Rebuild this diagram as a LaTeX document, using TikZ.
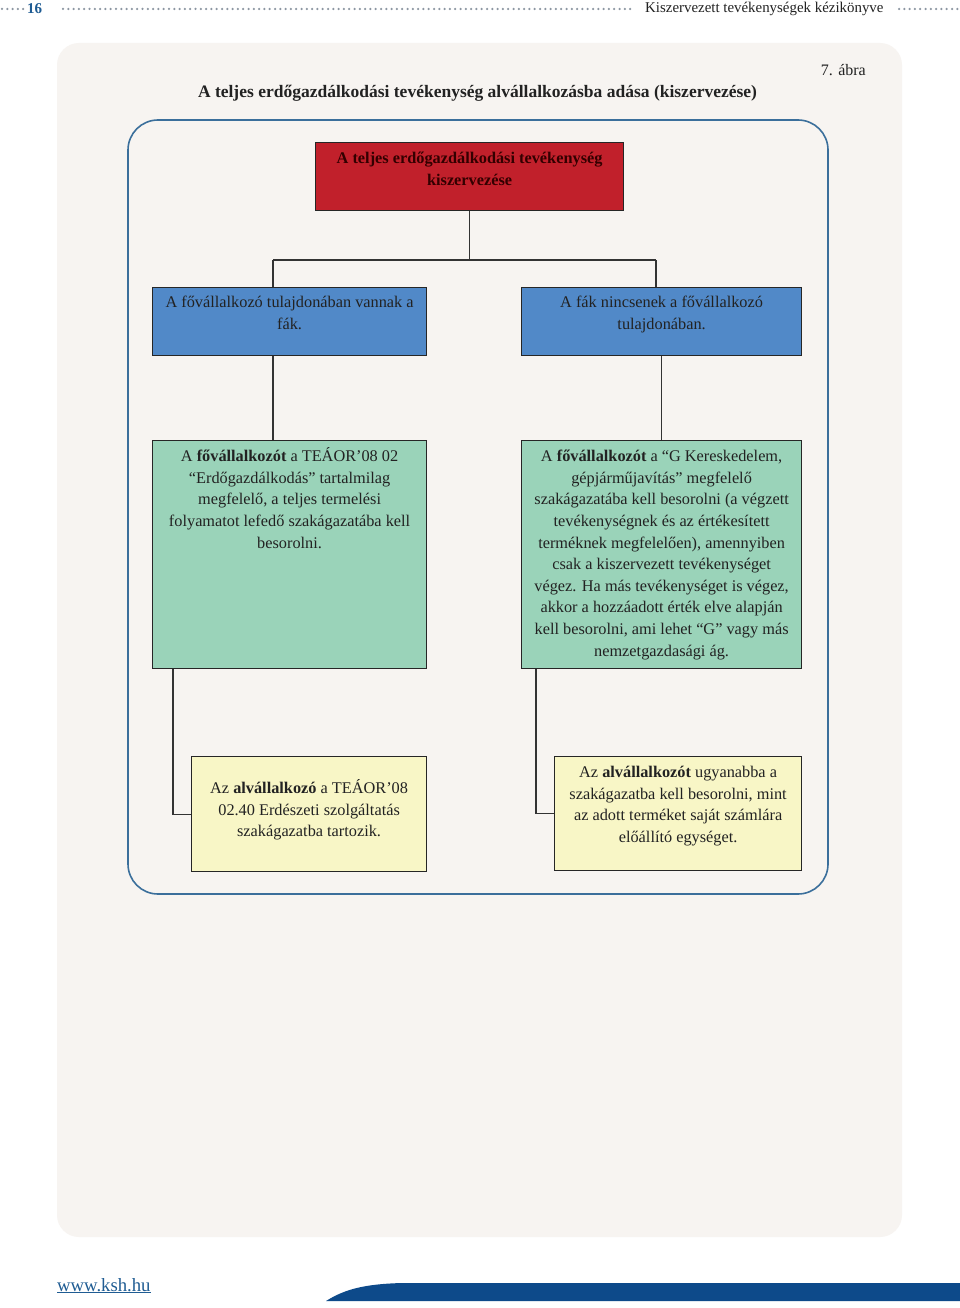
\documentclass[tikz,border=0pt]{standalone}
\usepackage{fontspec}
\setmainfont{Liberation Serif}
\definecolor{panel}{HTML}{F7F4F1}
\definecolor{frame}{HTML}{3B6F9B}
\definecolor{redbox}{HTML}{C1202B}
\definecolor{bluebox}{HTML}{5189C8}
\definecolor{greenbox}{HTML}{9AD3B9}
\definecolor{yellowbox}{HTML}{F8F6C6}
\definecolor{hdrblue}{HTML}{1F5C93}
\definecolor{band}{HTML}{0D4A8A}
\definecolor{dotgray}{HTML}{8C96A2}
\definecolor{txt}{HTML}{222222}
\newcommand{\bxfont}{\fontsize{16.3}{21.6}\selectfont}
\begin{document}
\begin{tikzpicture}[x=1pt,y=-1pt,
  bx/.style={draw=black!85,line width=1.2pt,anchor=north west,inner sep=0pt,text=txt},
  conn/.style={draw=black!80,line width=1.1pt},
  dots/.style={dotgray,line width=2.5pt,line cap=round,dash pattern=on 0pt off 5.3pt}]
\useasboundingbox (0,0) rectangle (960,1308);
\fill[white] (0,0) rectangle (960,1308);
% header
\draw[dots] (2,9) -- (24,9);
\draw[dots] (63,9) -- (633,9);
\draw[dots] (899,9) -- (960,9);
\node[anchor=base west,inner sep=0,text=hdrblue,font=\bfseries\fontsize{15}{16}\selectfont] (pg) at (27,13.5) {16};
\node[anchor=base west,inner sep=0,text=txt,font=\fontsize{14.9}{16}\selectfont] (hd) at (645,13) {Kiszervezett tevékenységek kézikönyve};
% panel
\fill[panel,rounded corners=22pt] (57,43) rectangle (902,1237);
\node[anchor=base east,inner sep=0,text=txt,font=\fontsize{16}{18}\selectfont] (abra) at (866,76) {7. ábra};
\node[anchor=base,inner sep=0,text=txt,font=\bfseries\fontsize{17.5}{19}\selectfont] (title) at (477.5,98) {A teljes erdőgazdálkodási tevékenység alvállalkozásba adása (kiszervezése)};
% frame
\draw[frame,line width=1.6pt,rounded corners=30pt] (128,120) rectangle (828,894);
% boxes
\node[bx,fill=redbox,text=black!80!red] (red) at (315,142) {\parbox[t][68pt][t]{308pt}{\bxfont\vspace*{6pt}\centering\bfseries\strut A teljes erdőgazdálkodási tevékenység\\ kiszervezése}};
\node[bx,fill=bluebox] (b1) at (152,287) {\parbox[t][68pt][t]{274pt}{\bxfont\vspace*{5pt}\centering\strut A fővállalkozó tulajdonában vannak a\\ fák.}};
\node[bx,fill=bluebox] (b2) at (521,287) {\parbox[t][68pt][t]{280pt}{\bxfont\vspace*{5pt}\centering\strut A fák nincsenek a fővállalkozó\\ tulajdonában.}};
\node[bx,fill=greenbox] (g1) at (152,440) {\parbox[t][228pt][t]{274pt}{\bxfont\vspace*{6pt}\centering\strut A \textbf{fővállalkozót} a TEÁOR’08 02\\ “Erdőgazdálkodás” tartalmilag\\ megfelelő, a teljes termelési\\ folyamatot lefedő szakágazatába kell\\ besorolni.}};
\node[bx,fill=greenbox] (g2) at (521,440) {\parbox[t][228pt][t]{280pt}{\bxfont\vspace*{6pt}\centering\strut A \textbf{fővállalkozót} a “G Kereskedelem,\\ gépjárműjavítás” megfelelő\\ szakágazatába kell besorolni (a végzett\\ tevékenységnek és az értékesített\\ terméknek megfelelően), amennyiben\\ csak a kiszervezett tevékenységet\\ végez. Ha más tevékenységet is végez,\\ akkor a hozzáadott érték elve alapján\\ kell besorolni, ami lehet “G” vagy más\\ nemzetgazdasági ág.}};
\node[bx,fill=yellowbox] (y1) at (191,756) {\parbox[t][115pt][t]{235pt}{\bxfont\vspace*{22pt}\centering\strut Az \textbf{alvállalkozó} a TEÁOR’08\\ 02.40 Erdészeti szolgáltatás\\ szakágazatba tartozik.}};
\node[bx,fill=yellowbox] (y2) at (554,756) {\parbox[t][114pt][t]{247pt}{\bxfont\vspace*{6pt}\centering\strut Az \textbf{alvállalkozót} ugyanabba a\\ szakágazatba kell besorolni, mint\\ az adott terméket saját számlára\\ előállító egységet.}};
% connectors
\coordinate (jl) at (273,260);
\coordinate (jr) at (656,260);
\coordinate (cl) at (173,810);
\coordinate (cr) at (536,810);
\draw[conn] (red.south) -- (red.south |- jl);
\draw[conn] (jl) -- (jr);
\draw[conn] (jl) -- (jl |- b1.north);
\draw[conn] (jr) -- (jr |- b2.north);
\draw[conn] (b1.south -| jl) -- (g1.north -| jl);
\draw[conn] (b2.south) -- (g2.north);
\draw[conn] (g1.south -| cl) |- (y1.west);
\draw[conn] (g2.south -| cr) |- (y2.west);
% footer
\node[anchor=base west,inner sep=0,text=hdrblue,font=\fontsize{18.7}{20}\selectfont] (www) at (57,1291) {\underline{www.ksh.hu}};
\fill[band] (326,1301) .. controls (345,1289) and (365,1284) .. (402,1283) -- (960,1283) -- (960,1301) -- cycle;
\end{tikzpicture}
\end{document}
